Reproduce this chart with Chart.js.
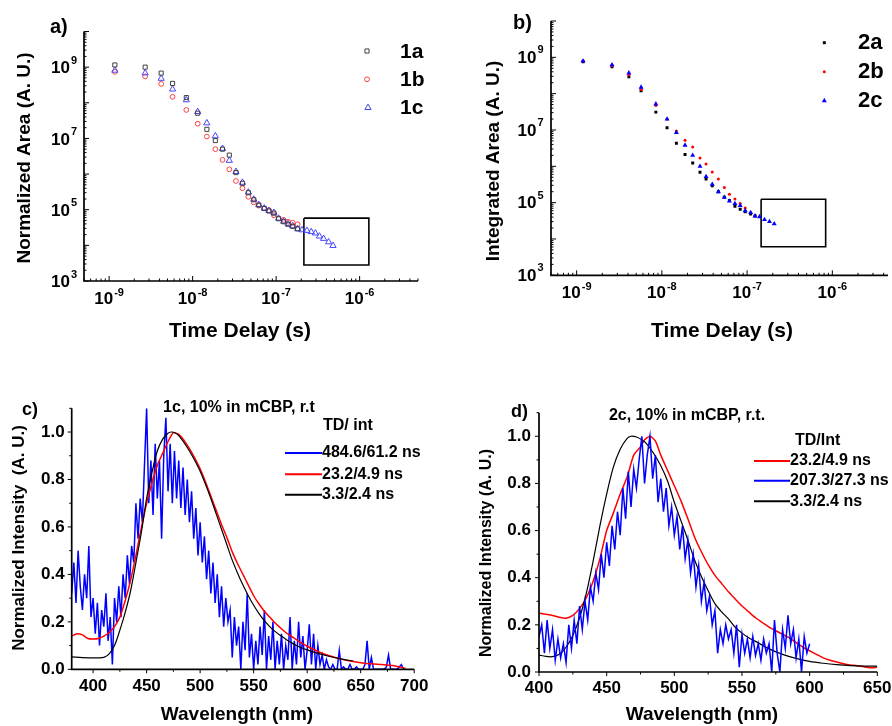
<!DOCTYPE html>
<html>
<head>
<meta charset="utf-8">
<script src="https://cdn.jsdelivr.net/npm/chart.js@4.4.0/dist/chart.umd.min.js"></script>
<style>
  html, body { margin: 0; padding: 0; background: #fff; }
  #wrap { position: relative; width: 892px; height: 726px; overflow: hidden; }
  #wrap canvas { position: absolute; left: 0; top: 0; }
</style>
</head>
<body>
<div id="wrap">
  <canvas id="chartA" width="892" height="726"></canvas>
  <canvas id="chartB" width="892" height="726"></canvas>
  <canvas id="chartC" width="892" height="726"></canvas>
  <canvas id="chartD" width="892" height="726"></canvas>
</div>
<script>
// ---- panel a : normalized area vs time delay
const timeA = [1.17e-9, 2.7e-9, 4.2e-9, 5.75e-9, 8.4e-9, 1.15e-8, 1.48e-8, 1.87e-8, 2.28e-8, 2.75e-8,
  3.3e-8, 3.95e-8, 4.65e-8, 5.4e-8, 6.2e-8, 7.2e-8, 8.2e-8, 9.4e-8, 1.07e-7, 1.23e-7,
  1.39e-7, 1.58e-7, 1.81e-7, 2.04e-7, 2.34e-7, 2.63e-7, 2.95e-7, 3.3e-7, 3.7e-7, 4.25e-7, 4.8e-7];
const area1a = [1.15e9, 1.0e9, 6.8e8, 3.5e8, 1.4e8, 5.1e7, 1.8e7, 8.7e6, 5.0e6, 3.4e6,
  1.1e6, 5.5e5, 3.0e5, 1.9e5, 1.35e5, 1.08e5, 9.2e4, 8.0e4, 5.6e4, 4.6e4, 3.9e4, 3.4e4, 2.9e4];
const area1b = [7.4e8, 5.5e8, 3.4e8, 1.47e8, 6.3e7, 2.6e7, 1.13e7, 5.0e6, 2.5e6, 1.36e6,
  6.4e5, 4.0e5, 2.3e5, 1.6e5, 1.3e5, 1.1e5, 9.7e4, 7.0e4, 5.7e4, 5.2e4, 4.6e4, 4.3e4, 3.9e4];
const area1c = [8.1e8, 6.8e8, 4.8e8, 2.4e8, 1.2e8, 5.6e7, 2.7e7, 1.17e7, 5.2e6, 2.4e6,
  1.17e6, 5.8e5, 3.1e5, 1.95e5, 1.38e5, 1.1e5, 9.4e4, 8.3e4, 5.7e4, 4.7e4,
  4.0e4, 3.5e4, 2.9e4, 2.7e4, 2.6e4, 2.4e4, 2.2e4, 1.8e4, 1.55e4, 1.24e4, 9.8e3];
const boxAx = [2.15e-7, 1.29e-6, 1.29e-6, 2.15e-7, 2.15e-7];
const boxAy = [5.8e4, 5.8e4, 2.8e3, 2.8e3, 5.8e4];

// ---- panel b : integrated area vs time delay
const timeB = [1.19e-9, 2.6e-9, 4.1e-9, 5.7e-9, 8.5e-9, 1.15e-8, 1.48e-8, 1.87e-8, 2.3e-8, 2.8e-8,
  3.3e-8, 3.9e-8, 4.6e-8, 5.4e-8, 6.2e-8, 7.2e-8, 8.3e-8, 9.5e-8, 1.1e-7, 1.24e-7,
  1.4e-7, 1.6e-7, 1.83e-7, 2.08e-7];
const area2a = [7.6e8, 5.5e8, 2.9e8, 1.2e8, 3.1e7, 1.15e7, 4.3e6, 2.1e6, 1.24e6, 6.9e5,
  4.5e5, 2.9e5, 2.0e5, 1.4e5, 1.15e5, 8.0e4, 6.6e4, 5.6e4, 4.9e4, 4.3e4];
const area2b = [8.1e8, 5.9e8, 3.3e8, 1.3e8, 4.7e7, 2.0e7, 9.4e6, 5.2e6, 3.4e6, 1.7e6,
  1.15e6, 7.0e5, 4.5e5, 2.6e5, 1.7e5, 1.26e5, 9.4e4, 7.1e4, 5.3e4, 4.3e4];
const area2c = [7.9e8, 6.2e8, 3.7e8, 1.5e8, 5.2e7, 2.0e7, 8.5e6, 3.8e6, 2.0e6, 1.0e6,
  5.2e5, 3.2e5, 2.0e5, 1.4e5, 1.1e5, 9.4e4, 8.3e4, 6.0e4, 5.3e4, 4.3e4,
  4.1e4, 3.4e4, 3.0e4, 2.6e4];
const boxBx = [1.46e-7, 8.35e-7, 8.35e-7, 1.46e-7, 1.46e-7];
const boxBy = [1.24e5, 1.24e5, 6.1e3, 6.1e3, 1.24e5];

// ---- panel c : 1c spectra
const wlRedC = [380, 385, 390, 395, 400, 405, 410, 415, 420, 425, 430, 435, 440, 445, 450, 455, 460, 465, 470, 475,
  480, 485, 490, 495, 500, 505, 510, 515, 520, 525, 530, 535, 540, 545, 550, 555, 560, 565, 570, 575,
  580, 585, 590, 595, 600, 610, 620, 630, 640, 650, 660, 670, 680, 692];
const redC = [0.14, 0.15, 0.145, 0.13, 0.128, 0.13, 0.14, 0.155, 0.18, 0.22, 0.29, 0.375, 0.48, 0.595, 0.70, 0.785, 0.86, 0.91, 0.96, 0.997,
  0.99, 0.965, 0.93, 0.89, 0.845, 0.79, 0.73, 0.67, 0.61, 0.555, 0.495, 0.445, 0.40, 0.355, 0.31, 0.275, 0.245, 0.22, 0.195, 0.175,
  0.155, 0.14, 0.125, 0.11, 0.097, 0.075, 0.058, 0.045, 0.035, 0.028, 0.023, 0.02, 0.016, 0.004];
const wlBlackC = [380, 390, 400, 405, 410, 415, 420, 425, 430, 435, 440, 445, 450, 455, 460, 465, 470, 473,
  476, 480, 485, 490, 495, 500, 505, 510, 515, 520, 525, 530, 535, 540, 545, 550, 555, 560, 565, 570,
  575, 580, 585, 590, 595, 600, 610, 620, 630, 643];
const blackC = [0.052, 0.049, 0.048, 0.048, 0.05, 0.065, 0.10, 0.165, 0.24, 0.33, 0.45, 0.575, 0.72, 0.83, 0.92, 0.97, 0.995, 1.0,
  0.998, 0.985, 0.955, 0.92, 0.88, 0.835, 0.78, 0.72, 0.655, 0.59, 0.525, 0.46, 0.405, 0.355, 0.31, 0.27, 0.235, 0.205, 0.18, 0.16,
  0.142, 0.127, 0.113, 0.10, 0.09, 0.082, 0.067, 0.055, 0.045, 0.035];
const blueCStart = 380, blueCStep = 2;
const blueC = [0.32, 0.45, 0.28, 0.50, 0.35, 0.25, 0.40, 0.30, 0.52, 0.22,
  0.30, 0.15, 0.28, 0.10, 0.25, 0.18, 0.32, 0.12, 0.22, 0.02,
  0.30, 0.20, 0.35, 0.22, 0.40, 0.30, 0.48, 0.36, 0.52, 0.45,
  0.70, 0.55, 0.72, 0.62, 0.86, 1.10, 0.70, 0.88, 0.65, 0.95,
  0.72, 0.88, 0.55, 0.90, 1.06, 0.75, 0.95, 0.70, 0.92, 0.72,
  0.88, 0.68, 0.85, 0.65, 0.80, 0.62, 0.75, 0.55, 0.68, 0.48,
  0.62, 0.45, 0.56, 0.38, 0.50, 0.32, 0.45, 0.28, 0.40, 0.22,
  0.35, 0.18, 0.30, 0.20, 0.25, 0.05, 0.22, 0.10, 0.18, 0.00,
  0.20, 0.08, 0.32, 0.05, 0.15, 0.00, 0.12, 0.02, 0.18, 0.06,
  0.25, 0.00, 0.14, 0.04, 0.20, 0.00, 0.12, 0.02, 0.15, 0.00,
  0.10, 0.04, 0.22, 0.00, 0.12, 0.02, 0.20, 0.05, 0.14, 0.00,
  0.08, 0.19, 0.02, 0.15, 0.00, 0.10, 0.02, 0.06, 0.00, 0.04,
  0.01, 0.00, 0.02, 0.00, 0.00, 0.08, 0.00, 0.01, 0.00, 0.00,
  0.02, 0.00, 0.00, 0.01, 0.00, 0.00, 0.00, 0.02, 0.12, 0.00,
  0.05, 0.00, 0.00, 0.00, 0.00, 0.00, 0.00, 0.01, 0.06, 0.00,
  0.00, 0.00, 0.00, 0.01, 0.02, 0.00];

// ---- panel d : 2c spectra
const wlRedD = [400, 405, 410, 415, 420, 425, 430, 435, 440, 445, 450, 455, 460, 465, 470, 475, 478, 482, 486, 490,
  495, 500, 505, 510, 515, 520, 525, 530, 535, 540, 545, 550, 555, 560, 565, 570, 575, 580, 585, 590,
  595, 600, 605, 610, 615, 620, 625, 630, 635, 640, 645, 650];
const redD = [0.25, 0.245, 0.24, 0.232, 0.228, 0.24, 0.27, 0.315, 0.385, 0.48, 0.60, 0.675, 0.755, 0.825, 0.92, 0.955, 0.985, 1.0, 0.98, 0.92,
  0.855, 0.79, 0.725, 0.65, 0.572, 0.51, 0.455, 0.41, 0.375, 0.34, 0.31, 0.28, 0.255, 0.23, 0.21, 0.19, 0.175, 0.16, 0.145, 0.125,
  0.105, 0.09, 0.075, 0.06, 0.05, 0.042, 0.035, 0.03, 0.027, 0.022, 0.018, 0.02];
const wlBlackD = [400, 405, 410, 415, 420, 425, 430, 435, 440, 445, 450, 455, 460, 465, 468, 472, 476, 480, 485, 490,
  495, 500, 505, 510, 515, 520, 525, 530, 535, 540, 545, 550, 555, 560, 570, 580, 590, 600, 610, 620,
  630, 640, 650];
const blackD = [0.072, 0.066, 0.065, 0.075, 0.105, 0.155, 0.23, 0.335, 0.47, 0.62, 0.755, 0.87, 0.945, 0.99, 1.0, 0.997, 0.985, 0.965, 0.925, 0.875,
  0.81, 0.72, 0.64, 0.56, 0.475, 0.405, 0.345, 0.29, 0.255, 0.225, 0.19, 0.165, 0.145, 0.13, 0.098, 0.075, 0.058, 0.045, 0.037, 0.031,
  0.027, 0.025, 0.025];
const blueDStart = 400, blueDStep = 2;
const blueD = [0.15, 0.20, 0.08, 0.22, 0.10, 0.18, 0.05, 0.14, 0.06, 0.12,
  0.04, 0.20, 0.10, 0.22, 0.12, 0.28, 0.18, 0.30, 0.22, 0.36,
  0.30, 0.42, 0.35, 0.50, 0.40, 0.55, 0.45, 0.62, 0.52, 0.68,
  0.58, 0.78, 0.65, 0.85, 0.70, 0.86, 0.78, 0.90, 1.00, 0.80,
  0.92, 1.00, 0.82, 0.92, 0.72, 0.82, 0.68, 0.78, 0.62, 0.70,
  0.58, 0.66, 0.52, 0.62, 0.48, 0.56, 0.42, 0.50, 0.36, 0.45,
  0.30, 0.38, 0.26, 0.32, 0.20, 0.26, 0.08, 0.18, 0.12, 0.20,
  0.14, 0.18, 0.08, 0.20, 0.02, 0.16, 0.08, 0.14, 0.06, 0.15,
  0.07, 0.12, 0.05, 0.14, 0.08, 0.12, 0.00, 0.22, 0.08, 0.00,
  0.18, 0.10, 0.24, 0.12, 0.18, 0.06, 0.14, 0.00, 0.15, 0.08,
  0.12];

const FF = '"Liberation Sans", Arial, Helvetica, sans-serif';
const bold = px => 'bold ' + px + 'px ' + FF;
Chart.defaults.font.family = FF;

const pts = (xs, ys) => ys.map((y, i) => ({ x: xs[i], y: y }));
const evenPts = (start, step, ys) => ys.map((y, i) => ({ x: start + i * step, y: y }));

function logTicks(lo, hi) {
  const major = [], minor = [];
  for (let e = Math.floor(Math.log10(lo)); e <= Math.ceil(Math.log10(hi)); e++) {
    for (let k = 1; k <= 9; k++) {
      const v = k * Math.pow(10, e);
      if (v < lo * 0.999 || v > hi * 1.001) continue;
      (k === 1 ? major : minor).push(v);
    }
  }
  return { major, minor };
}
function linTicks(lo, hi, step) {
  const out = [];
  for (let v = lo; v <= hi + 1e-9; v += step) out.push(Math.round(v * 1000) / 1000);
  return out;
}

function powText(ctx, v, x, y, align, big, small, rise) {
  const e = String(Math.round(Math.log10(v)));
  ctx.font = bold(big); const w1 = ctx.measureText('10').width;
  ctx.font = bold(small); const w2 = ctx.measureText(e).width;
  const w = w1 + w2 + 1;
  const x0 = align === 'right' ? x - w : x - w / 2;
  ctx.textAlign = 'left';
  ctx.font = bold(big); ctx.fillText('10', x0, y);
  ctx.font = bold(small); ctx.fillText(e, x0 + w1 + 1, y - rise);
}

function marker(ctx, m) {
  ctx.save();
  ctx.lineWidth = 1;
  ctx.strokeStyle = m.color;
  ctx.fillStyle = m.solid ? m.color : 'rgba(0,0,0,0)';
  ctx.beginPath();
  if (m.shape === 'rect') {
    const h = m.r * Math.SQRT1_2;
    ctx.rect(m.x - h, m.y - h, 2 * h, 2 * h);
  } else if (m.shape === 'circle') {
    ctx.arc(m.x, m.y, m.r, 0, Math.PI * 2);
  } else {
    ctx.moveTo(m.x, m.y - m.r);
    ctx.lineTo(m.x + m.r * 0.866, m.y + m.r / 2);
    ctx.lineTo(m.x - m.r * 0.866, m.y + m.r / 2);
    ctx.closePath();
  }
  if (m.solid) ctx.fill(); else ctx.stroke();
  ctx.restore();
}

// per-panel decoration: axes, ticks, labels, titles, legends (keyed by canvas id)
const DECOR = {};

const decor = {
  id: 'decor',
  afterDatasetsDraw(chart) {
    const o = DECOR[chart.canvas.id];
    if (!o) return;
    const { ctx, chartArea: ca, scales } = chart;
    const sx = scales.x, sy = scales.y;
    ctx.save();
    ctx.strokeStyle = '#000'; ctx.fillStyle = '#000';
    const s = o.inward ? -1 : 1;
    ctx.lineWidth = 1;
    ctx.beginPath();
    const tick = (list, len, isX) => list.forEach(v => {
      const p = (isX ? sx : sy).getPixelForValue(v);
      if (isX) { ctx.moveTo(p, ca.bottom); ctx.lineTo(p, ca.bottom + s * len); }
      else { ctx.moveTo(ca.left, p); ctx.lineTo(ca.left - s * len, p); }
    });
    tick(o.x.major, o.len[0], true); tick(o.x.minor, o.len[1], true);
    tick(o.y.major, o.len[0], false); tick(o.y.minor, o.len[1], false);
    ctx.stroke();
    ctx.lineWidth = 1.7;
    ctx.beginPath();
    ctx.moveTo(ca.left, ca.top); ctx.lineTo(ca.left, ca.bottom); ctx.lineTo(ca.right, ca.bottom);
    ctx.stroke();

    ctx.textBaseline = 'middle';
    o.x.labels.forEach(v => {
      const p = sx.getPixelForValue(v), y = ca.bottom + o.x.gap;
      if (o.log) powText(ctx, v, p, y, 'center', o.font, o.supFont, o.x.rise);
      else { ctx.font = bold(o.font); ctx.textAlign = 'center'; ctx.fillText(String(v), p, y); }
    });
    o.y.labels.forEach(v => {
      const p = sy.getPixelForValue(v) + (o.y.shift || 0), x = ca.left - o.y.gap;
      if (o.log) powText(ctx, v, x, p, 'right', o.font, o.supFont, o.y.rise);
      else { ctx.font = bold(o.font); ctx.textAlign = 'right'; ctx.fillText(v.toFixed(1), x, p); }
    });

    o.texts.forEach(t => {
      ctx.save();
      ctx.font = bold(t.size);
      ctx.textAlign = t.align || 'center';
      ctx.textBaseline = 'middle';
      ctx.translate(t.x, t.y);
      if (t.rot) ctx.rotate(-Math.PI / 2);
      ctx.fillText(t.t, 0, 0);
      ctx.restore();
    });

    (o.legend || []).forEach(l => {
      if (l.kind === 'line') {
        ctx.save();
        ctx.strokeStyle = l.color; ctx.lineWidth = 2;
        ctx.beginPath(); ctx.moveTo(l.x1, l.y); ctx.lineTo(l.x2, l.y); ctx.stroke();
        ctx.restore();
      } else {
        marker(ctx, l);
      }
    });
    ctx.restore();
  }
};

const baseOpts = (pad, xScale, yScale) => ({
  responsive: false,
  animation: false,
  events: [],
  layout: { padding: pad },
  scales: { x: Object.assign({ display: false }, xScale), y: Object.assign({ display: false }, yScale) },
  plugins: { legend: { display: false }, tooltip: { enabled: false } }
});

// ---------- a
const ltA = logTicks(5e-10, 5e-6), lyA = logTicks(1e3, 1e10);
DECOR.chartA = {
  log: true, inward: true, len: [5, 2.5], font: 17, supFont: 11,
  x: { major: ltA.major, minor: ltA.minor, labels: [1e-9, 1e-8, 1e-7, 1e-6], gap: 18, rise: 6 },
  y: { major: lyA.major, minor: lyA.minor, labels: [1e3, 1e5, 1e7, 1e9], gap: 7, rise: 8, shift: 1.5 },
  texts: [
    { t: 'a)', x: 50, y: 27, size: 20, align: 'left' },
    { t: 'Normalized Area (A. U.)', x: 25, y: 158, size: 19, rot: true },
    { t: 'Time Delay (s)', x: 240, y: 331, size: 21 },
    { t: '1a', x: 400, y: 52, size: 21, align: 'left' },
    { t: '1b', x: 400, y: 80, size: 21, align: 'left' },
    { t: '1c', x: 400, y: 108, size: 21, align: 'left' }
  ],
  legend: [
    { shape: 'rect', r: 2.9, color: '#404040', x: 367, y: 51 },
    { shape: 'circle', r: 2.4, color: '#ff4040', x: 367, y: 79.3 },
    { shape: 'triangle', r: 3.6, color: '#4646ff', x: 368, y: 107.7 }
  ]
};
new Chart(document.getElementById('chartA'), {
  type: 'scatter',
  data: {
    datasets: [
      { label: '1c', data: pts(timeA, area1c), pointStyle: 'triangle', pointRadius: 3.6, borderWidth: 1,
        borderColor: '#4646ff', backgroundColor: 'rgba(0,0,0,0)', order: 1 },
      { label: '1b', data: pts(timeA, area1b), pointStyle: 'circle', pointRadius: 2.4, borderWidth: 1,
        borderColor: '#ff4040', backgroundColor: 'rgba(0,0,0,0)', order: 2 },
      { label: '1a', data: pts(timeA, area1a), pointStyle: 'rect', pointRadius: 2.9, borderWidth: 1,
        borderColor: '#404040', backgroundColor: 'rgba(0,0,0,0)', order: 0 },
      { label: 'box', data: pts(boxAx, boxAy), showLine: true, pointRadius: 0, borderColor: '#000',
        borderWidth: 1.6, order: 3 }
    ]
  },
  options: baseOpts({ left: 84, top: 31.5, right: 474, bottom: 445 },
    { type: 'logarithmic', min: 5e-10, max: 5e-6 },
    { type: 'logarithmic', min: 1e3, max: 1e10 }),
  plugins: [decor]
});

// ---------- b
const ltB = logTicks(5e-10, 4.5e-6), lyB = logTicks(1e3, 1e10);
DECOR.chartB = {
  log: true, inward: true, len: [5, 2.5], font: 17, supFont: 11,
  x: { major: ltB.major, minor: ltB.minor, labels: [1e-9, 1e-8, 1e-7, 1e-6], gap: 18, rise: 6 },
  y: { major: lyB.major, minor: lyB.minor, labels: [1e3, 1e5, 1e7, 1e9], gap: 7.5, rise: 8, shift: 1 },
  texts: [
    { t: 'b)', x: 513, y: 23, size: 20, align: 'left' },
    { t: 'Integrated Area (A. U.)', x: 494, y: 161, size: 19, rot: true },
    { t: 'Time Delay (s)', x: 722, y: 331, size: 21 },
    { t: '2a', x: 858, y: 43, size: 22, align: 'left' },
    { t: '2b', x: 858, y: 72, size: 22, align: 'left' },
    { t: '2c', x: 858, y: 101, size: 22, align: 'left' }
  ],
  legend: [
    { shape: 'rect', r: 2.1, color: '#000', solid: true, x: 824.3, y: 42.7 },
    { shape: 'circle', r: 1.5, color: '#ff0000', solid: true, x: 824.3, y: 71.7 },
    { shape: 'triangle', r: 2.9, color: '#0000ff', solid: true, x: 824.3, y: 100.7 }
  ]
};
new Chart(document.getElementById('chartB'), {
  type: 'scatter',
  data: {
    datasets: [
      { label: '2c', data: pts(timeB, area2c), pointStyle: 'triangle', pointRadius: 2.9, borderWidth: 0,
        borderColor: '#0000ff', backgroundColor: '#0000ff', order: 0 },
      { label: '2b', data: pts(timeB, area2b), pointStyle: 'circle', pointRadius: 1.5, borderWidth: 0,
        borderColor: '#ff0000', backgroundColor: '#ff0000', order: 1 },
      { label: '2a', data: pts(timeB, area2a), pointStyle: 'rect', pointRadius: 2.1, borderWidth: 0,
        borderColor: '#000', backgroundColor: '#000', order: 2 },
      { label: 'box', data: pts(boxBx, boxBy), showLine: true, pointRadius: 0, borderColor: '#000',
        borderWidth: 1.6, order: 3 }
    ]
  },
  options: baseOpts({ left: 551, top: 21, right: 1, bottom: 450.7 },
    { type: 'logarithmic', min: 5e-10, max: 4.5e-6 },
    { type: 'logarithmic', min: 1e3, max: 1e10 }),
  plugins: [decor]
});

// ---------- c
DECOR.chartC = {
  log: false, inward: false, len: [4, 2.5], font: 17,
  x: { major: linTicks(400, 700, 50), minor: linTicks(425, 675, 50), labels: linTicks(400, 700, 50), gap: 17 },
  y: { major: linTicks(0, 1, 0.2), minor: linTicks(0.1, 1.1, 0.2), labels: linTicks(0, 1, 0.2), gap: 7 },
  texts: [
    { t: 'c)', x: 22, y: 410, size: 18, align: 'left' },
    { t: '1c, 10% in mCBP, r.t', x: 239, y: 408, size: 16 },
    { t: 'Normalized Intensity  (A. U.)', x: 19, y: 538, size: 17, rot: true },
    { t: 'Wavelength (nm)', x: 237, y: 715, size: 19 },
    { t: 'TD/ int', x: 323, y: 426, size: 16, align: 'left' },
    { t: '484.6/61.2 ns', x: 322, y: 453, size: 16, align: 'left' },
    { t: '23.2/4.9 ns', x: 322, y: 474.3, size: 16, align: 'left' },
    { t: '3.3/2.4 ns', x: 322, y: 494.7, size: 16, align: 'left' }
  ],
  legend: [
    { kind: 'line', color: '#0000ff', x1: 285, x2: 322, y: 453 },
    { kind: 'line', color: '#ff0000', x1: 285, x2: 322, y: 474.3 },
    { kind: 'line', color: '#000', x1: 285, x2: 322, y: 494.7 }
  ]
};
new Chart(document.getElementById('chartC'), {
  type: 'scatter',
  data: {
    datasets: [
      { label: '3.3/2.4 ns', data: pts(wlBlackC, blackC), showLine: true, pointRadius: 0, borderColor: '#000',
        borderWidth: 1.2, tension: 0.3, order: 0 },
      { label: '23.2/4.9 ns', data: pts(wlRedC, redC), showLine: true, pointRadius: 0, borderColor: '#ff0000',
        borderWidth: 1.5, tension: 0.2, order: 1 },
      { label: '484.6/61.2 ns', data: evenPts(blueCStart, blueCStep, blueC), showLine: true, pointRadius: 0,
        borderColor: '#0000ff', borderWidth: 1.5, order: 2 }
    ]
  },
  options: baseOpts({ left: 71.7, top: 408.3, right: 477.8, bottom: 56.7 },
    { type: 'linear', min: 380, max: 700 },
    { type: 'linear', min: 0, max: 1.1 }),
  plugins: [decor]
});

// ---------- d
DECOR.chartD = {
  log: false, inward: false, len: [4, 2.5], font: 17,
  x: { major: linTicks(400, 650, 50), minor: linTicks(425, 625, 50), labels: linTicks(400, 650, 50), gap: 16 },
  y: { major: linTicks(0, 1, 0.2), minor: linTicks(0.1, 1.1, 0.2), labels: linTicks(0, 1, 0.2), gap: 8 },
  texts: [
    { t: 'd)', x: 511, y: 412, size: 18, align: 'left' },
    { t: '2c, 10% in mCBP, r.t.', x: 687, y: 416, size: 16 },
    { t: 'Normalized Intensity (A. U.)', x: 487, y: 553, size: 16, rot: true },
    { t: 'Wavelength (nm)', x: 702, y: 715, size: 19 },
    { t: 'TD/Int', x: 795, y: 441, size: 16, align: 'left' },
    { t: '23.2/4.9 ns', x: 790, y: 461, size: 16, align: 'left' },
    { t: '207.3/27.3 ns', x: 790, y: 480.7, size: 16, align: 'left' },
    { t: '3.3/2.4 ns', x: 790, y: 501.3, size: 16, align: 'left' }
  ],
  legend: [
    { kind: 'line', color: '#ff0000', x1: 754, x2: 790, y: 461 },
    { kind: 'line', color: '#0000ff', x1: 754, x2: 790, y: 480.7 },
    { kind: 'line', color: '#000', x1: 754, x2: 790, y: 501.3 }
  ]
};
new Chart(document.getElementById('chartD'), {
  type: 'scatter',
  data: {
    datasets: [
      { label: '3.3/2.4 ns', data: pts(wlBlackD, blackD), showLine: true, pointRadius: 0, borderColor: '#000',
        borderWidth: 1.2, tension: 0.3, order: 1 },
      { label: '207.3/27.3 ns', data: evenPts(blueDStart, blueDStep, blueD), showLine: true, pointRadius: 0,
        borderColor: '#0000ff', borderWidth: 1.5, order: 0 },
      { label: '23.2/4.9 ns', data: pts(wlRedD, redD), showLine: true, pointRadius: 0, borderColor: '#ff0000',
        borderWidth: 1.5, tension: 0.2, order: 2 }
    ]
  },
  options: baseOpts({ left: 539, top: 412.7, right: 14.7, bottom: 54 },
    { type: 'linear', min: 400, max: 650 },
    { type: 'linear', min: 0, max: 1.1 }),
  plugins: [decor]
});
</script>
</body>
</html>
